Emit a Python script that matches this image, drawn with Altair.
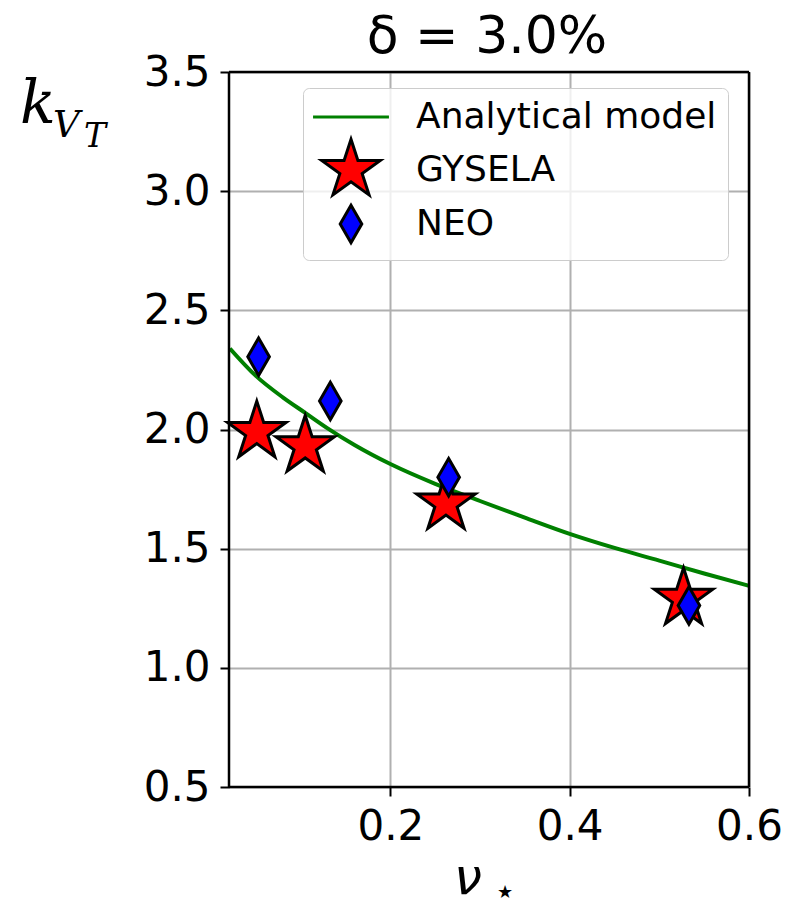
import math
import altair as alt
import pandas as pd

# ---- data ----
series_names = ["Analytical model", "GYSELA", "NEO"]

gysela_nu = [0.051, 0.105, 0.262, 0.527]
gysela_k = [1.99, 1.93, 1.69, 1.29]

neo_nu = [0.053, 0.133, 0.265, 0.533]
neo_k = [2.305, 2.12, 1.80, 1.262]

model_nu = [0.021, 0.05, 0.08, 0.105, 0.13, 0.16, 0.2, 0.25, 0.3, 0.35, 0.4, 0.45, 0.5, 0.55, 0.6]
model_k = [2.34, 2.225, 2.135, 2.07, 2.005, 1.935, 1.855, 1.772, 1.700, 1.630, 1.562, 1.503, 1.450, 1.396, 1.344]

x_ticks = [0.2, 0.4, 0.6]
y_ticks = [0.5, 1.0, 1.5, 2.0, 2.5, 3.0, 3.5]
x_domain = [0.02, 0.6]
y_domain = [0.5, 3.5]

title_text = "δ = 3.0%"

# ---- marker shapes (paths, scaled so all use the same mark size) ----
def star_path(R, ratio=0.381966):
    pts = []
    for i in range(10):
        ang = math.radians(-90 + 36 * i)
        r = R if i % 2 == 0 else R * ratio
        pts.append((r * math.cos(ang), r * math.sin(ang)))
    return "M" + "L".join(f"{x:.3f},{y:.3f}" for x, y in pts) + "Z"

STAR = star_path(2.05)
DIAMOND = "M0,-1.25L0.72,0L0,1.25L-0.72,0Z"
LINE = "M-2.53,0L2.53,0"
MSIZE = 900

pts = pd.DataFrame({
    "nu": gysela_nu + neo_nu,
    "k": gysela_k + neo_k,
    "series": ["GYSELA"] * len(gysela_nu) + ["NEO"] * len(neo_nu),
})
model = pd.DataFrame({"nu": model_nu, "k": model_k, "series": "Analytical model"})

FONT = "DejaVu Sans"

xscale = alt.Scale(domain=x_domain, nice=False, zero=False)
yscale = alt.Scale(domain=y_domain, nice=False, zero=False)

xaxis = alt.Axis(values=x_ticks, format=".1f", title=None, labelFontSize=42, labelFont=FONT,
                 labelColor="black", labelPadding=10, tickSize=9, tickWidth=2, tickColor="black",
                 domain=False, grid=True, gridColor="#b0b0b0", gridWidth=2, labelFlush=False)
yaxis = alt.Axis(values=y_ticks, format=".1f", title=None, labelFontSize=42, labelFont=FONT,
                 labelColor="black", labelPadding=10, tickSize=9, tickWidth=2, tickColor="black",
                 domain=False, grid=True, gridColor="#b0b0b0", gridWidth=2, labelFlush=False)

legend = alt.Legend(orient="none", legendX=74, legendY=16, title=None, padding=11,
                    labelFontSize=36, labelFont=FONT, labelColor="black", labelLimit=0,
                    symbolSize=MSIZE, symbolStrokeWidth=3, symbolOffset=19, labelOffset=47,
                    rowPadding=-2, fillColor="rgba(255,255,255,0.8)", strokeColor="#cccccc",
                    cornerRadius=6, symbolOpacity=1)

fill_scale = alt.Scale(domain=series_names, range=["green", "red", "blue"])
stroke_scale = alt.Scale(domain=series_names, range=["green", "black", "black"])
shape_scale = alt.Scale(domain=series_names, range=[LINE, STAR, DIAMOND])

line = alt.Chart(model).mark_line(strokeWidth=4, clip=True, interpolate="monotone").encode(
    x=alt.X("nu:Q", scale=xscale, axis=xaxis),
    y=alt.Y("k:Q", scale=yscale, axis=yaxis),
    stroke=alt.Stroke("series:N", scale=stroke_scale, legend=legend),
)

points = alt.Chart(pts).mark_point(filled=True, opacity=1, size=MSIZE, strokeWidth=3).encode(
    x=alt.X("nu:Q", scale=xscale),
    y=alt.Y("k:Q", scale=yscale),
    fill=alt.Fill("series:N", scale=fill_scale, legend=legend),
    stroke=alt.Stroke("series:N", scale=stroke_scale, legend=legend),
    shape=alt.Shape("series:N", scale=shape_scale, legend=legend),
)

one = alt.Data(values=[{}])
frame_x = alt.Chart(pd.DataFrame({"v": x_domain})).mark_rule(color="black", strokeWidth=2.5).encode(
    x=alt.X("v:Q", scale=xscale))
frame_y = alt.Chart(pd.DataFrame({"v": y_domain})).mark_rule(color="black", strokeWidth=2.5).encode(
    y=alt.Y("v:Q", scale=yscale))

title = alt.Chart(one).mark_text(font=FONT, fontSize=52, align="center", baseline="alphabetic",
                                 color="black").encode(
    x=alt.value(258), y=alt.value(-19), text=alt.value(title_text))
k_t = alt.Chart(one).mark_text(font="DejaVu Serif", fontStyle="italic", fontSize=59, align="left",
                               baseline="alphabetic", color="black").encode(
    x=alt.value(-209), y=alt.value(51), text=alt.value("k"))
v_t = alt.Chart(one).mark_text(font="DejaVu Serif", fontStyle="italic", fontSize=37, align="left",
                               baseline="alphabetic", color="black").encode(
    x=alt.value(-176), y=alt.value(65), text=alt.value("V"))
t_t = alt.Chart(one).mark_text(font="DejaVu Serif", fontStyle="italic", fontSize=33, align="left",
                               baseline="alphabetic", color="black").encode(
    x=alt.value(-145), y=alt.value(75), text=alt.value("T"))
nu_t = alt.Chart(one).mark_text(font=FONT, fontStyle="italic", fontSize=50, align="left",
                                baseline="alphabetic", color="black").encode(
    x=alt.value(225), y=alt.value(822), text=alt.value("ν"))
star_t = alt.Chart(one).mark_text(font=FONT, fontSize=18, align="center", baseline="middle",
                                  color="black").encode(
    x=alt.value(276), y=alt.value(821), text=alt.value("★"))

chart = alt.layer(line, points, frame_x, frame_y, title, k_t, v_t, t_t, nu_t, star_t).properties(
    width=520, height=715,
    padding={"left": 229, "top": 72, "right": 47, "bottom": 119},
    autosize=alt.AutoSizeParams(type="none"),
).configure_view(stroke=None).configure(background="white")

chart.save("out.html", embed_options={"renderer": "svg", "actions": False})
